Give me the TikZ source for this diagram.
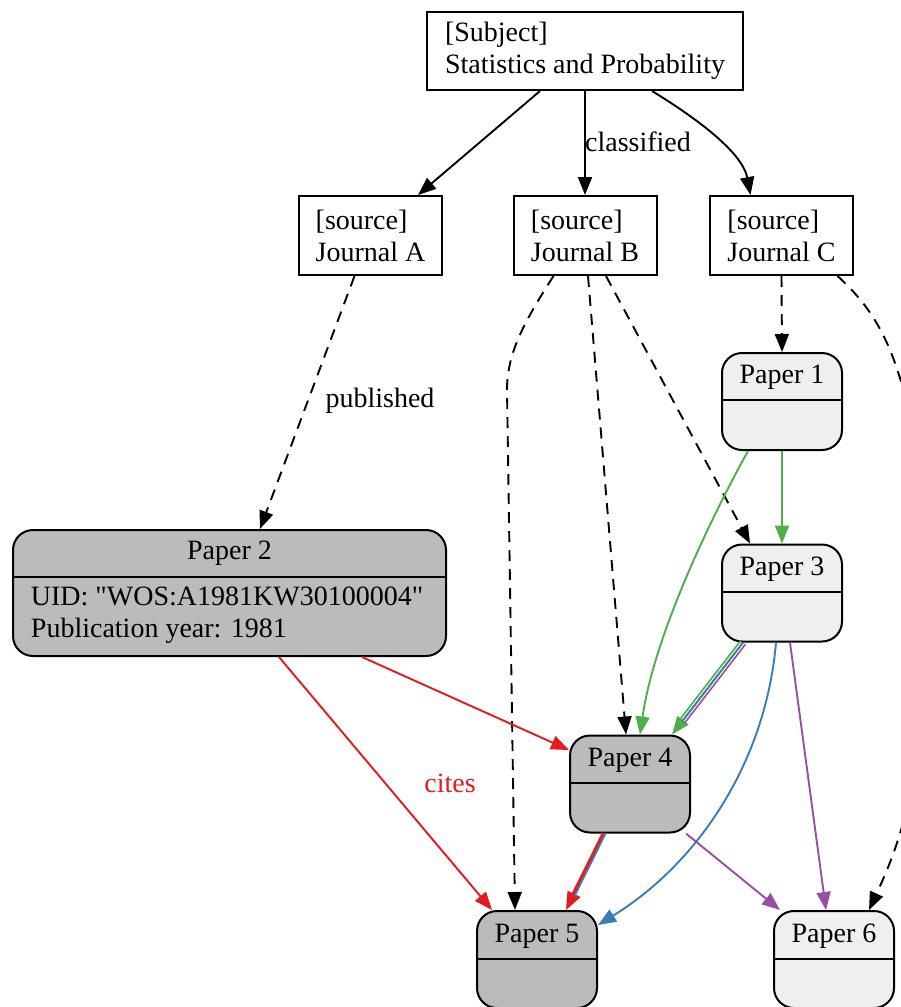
\documentclass[tikz,border=0pt]{standalone}
\usepackage{fontspec}
\setmainfont{Liberation Serif}[Ligatures=TeXOff]
\usetikzlibrary{arrows.meta,calc}
\definecolor{cgreen}{HTML}{4DAF4A}
\definecolor{cblue}{HTML}{377EB8}
\definecolor{cred}{HTML}{E41A1C}
\definecolor{cpurple}{HTML}{984EA3}
\definecolor{darkfill}{HTML}{BBBBBB}
\definecolor{lightfill}{HTML}{EFEFEF}
\tikzset{
  txt/.style={font=\fontsize{28}{32}\selectfont, inner sep=0pt, align=left},
  sqbox/.style={draw, line width=2pt, inner sep=0pt, minimum height=79pt, font=\fontsize{28}{32}\selectfont, align=left},
  paper/.style={draw, line width=2pt, rounded corners=20pt, inner sep=0pt, minimum width=120pt, minimum height=97pt},
  arr/.style={-{Triangle[length=18pt,width=14pt]}},
  dsh/.style={arr, dash pattern=on 11pt off 8pt},
  thin/.style={line width=1.6pt},
}
\begin{document}
\begin{tikzpicture}[x=1pt,y=-1pt,line width=1.9pt]
\clip (0,0) rectangle (901,1007);
% square nodes
\node[sqbox, minimum width=316pt, minimum height=78pt] (subj) at (585,51) {[Subject]\\Statistics and Probability};
\node[sqbox, minimum width=143pt] (ja) at (370.5,235.5) {[source]\\Journal A};
\node[sqbox, minimum width=143pt] (jb) at (585,235.5) {[source]\\Journal B};
\node[sqbox, minimum width=143pt] (jc) at (781.5,235.5) {[source]\\Journal C};
% papers
\node[paper, fill=lightfill] (p1) at (782,401.5) {};
\draw[line width=2pt] (p1.west |- 0,400) -- (p1.east |- 0,400);
\node[txt] (p1t) at (782,377) {Paper 1};
\node[paper, fill=lightfill] (p3) at (782,593) {};
\draw[line width=2pt] (p3.west |- 0,592) -- (p3.east |- 0,592);
\node[txt] (p3t) at (782,569) {Paper 3};
\node[paper, fill=darkfill, minimum width=433pt, minimum height=126pt] (p2) at (229.5,593) {};
\draw[line width=2pt] (p2.west |- 0,577) -- (p2.east |- 0,577);
\node[txt] (p2t) at (229.5,553) {Paper 2};
\node[txt, anchor=west] (p2b) at (30,615) {UID: "WOS:A1981KW30100004"\\Publication year: 1981};
\node[paper, fill=darkfill] (p4) at (630,784) {};
\draw[line width=2pt] (p4.west |- 0,783) -- (p4.east |- 0,783);
\node[txt] (p4t) at (630,760) {Paper 4};
\node[paper, fill=darkfill] (p5) at (537,959.5) {};
\draw[line width=2pt] (p5.west |- 0,959) -- (p5.east |- 0,959);
\node[txt] (p5t) at (537,936) {Paper 5};
\node[paper, fill=lightfill] (p6) at (834,959.5) {};
\draw[line width=2pt] (p6.west |- 0,959) -- (p6.east |- 0,959);
\node[txt] (p6t) at (834,936) {Paper 6};
% subject edges
\draw[arr] ([xshift=-45pt]subj.south) -- ([xshift=47.5pt]ja.north);
\draw[arr] (subj.south) -- (jb.north);
\node[txt] (lclass) at (638,142) {classified};
\draw[arr] ([xshift=67pt]subj.south) .. controls (688,113) and (742,150) .. ([xshift=-31pt]jc.north);
% journal edges
\draw[dsh] ([xshift=-16pt]ja.south) -- ([xshift=30.5pt]p2.north);
\node[txt] (lpub) at (380,401) {published};
\draw[dsh] ([xshift=-31.5pt]jb.south) .. controls (522,325) and (507,355) .. (507,390) -- ([xshift=-22pt]p5.north);
\draw[dsh] ([xshift=3pt]jb.south) -- ([xshift=-4pt]p4.north);
\draw[dsh] ([xshift=21pt]jb.south) -- ([xshift=-32pt]p3.north);
\draw[dsh] (jc.south) -- (p1.north);
\draw[dsh] ([xshift=56pt]jc.south) .. controls (880,315) and (922,370) .. (926,600) .. controls (930,780) and (892,860) .. ([xshift=35pt]p6.north);
% paper edges
\draw[arr, cgreen] (p1.south) -- (p3.north);
\draw[arr, cgreen] ([xshift=-34pt]p1.south) .. controls (718,505) and (655,630) .. ([xshift=10pt]p4.north);
% p3 -> p4 triple
\coordinate (s34) at ([xshift=-39pt]p3.south);
\coordinate (e34) at ([xshift=42pt]p4.north);
\draw[arr, cgreen] (s34) -- (e34);
\draw[thin, cblue, shorten >=16pt] (s34) -- (e34);
\draw[thin, cgreen, shorten >=16pt] ($(s34)!3pt!-90:(e34)$) -- ($(e34)!3pt!90:(s34)$);
\draw[thin, cpurple, shorten >=16pt] ($(s34)!3pt!90:(e34)$) -- ($(e34)!3pt!-90:(s34)$);
\draw[arr, cblue] ([xshift=-6pt]p3.south) .. controls (766,760) and (700,862) .. ([yshift=34.5pt]p5.east);
\draw[arr, cpurple] ([xshift=8pt]p3.south) -- ([xshift=-8pt]p6.north);
\draw[arr, cred] ([xshift=132.5pt]p2.south) -- ([yshift=34pt]p4.west);
\draw[arr, cred] ([xshift=49.5pt]p2.south) -- ([xshift=-45pt]p5.north);
\node[txt, text=cred] (lcites) at (450,783) {cites};
% p4 -> p5 double
\coordinate (s45) at ([xshift=-26pt]p4.south);
\coordinate (e45) at ([xshift=29pt]p5.north);
\draw[arr, cred] (s45) -- (e45);
\draw[thin, cred, shorten >=16pt] ($(s45)!1.5pt!-90:(e45)$) -- ($(e45)!1.5pt!90:(s45)$);
\draw[thin, cblue, shorten >=16pt] ($(s45)!1.5pt!90:(e45)$) -- ($(e45)!1.5pt!-90:(s45)$);
\draw[arr, cpurple] ([xshift=56pt]p4.south) -- ([xshift=-54pt]p6.north);
\end{tikzpicture}
\end{document}
